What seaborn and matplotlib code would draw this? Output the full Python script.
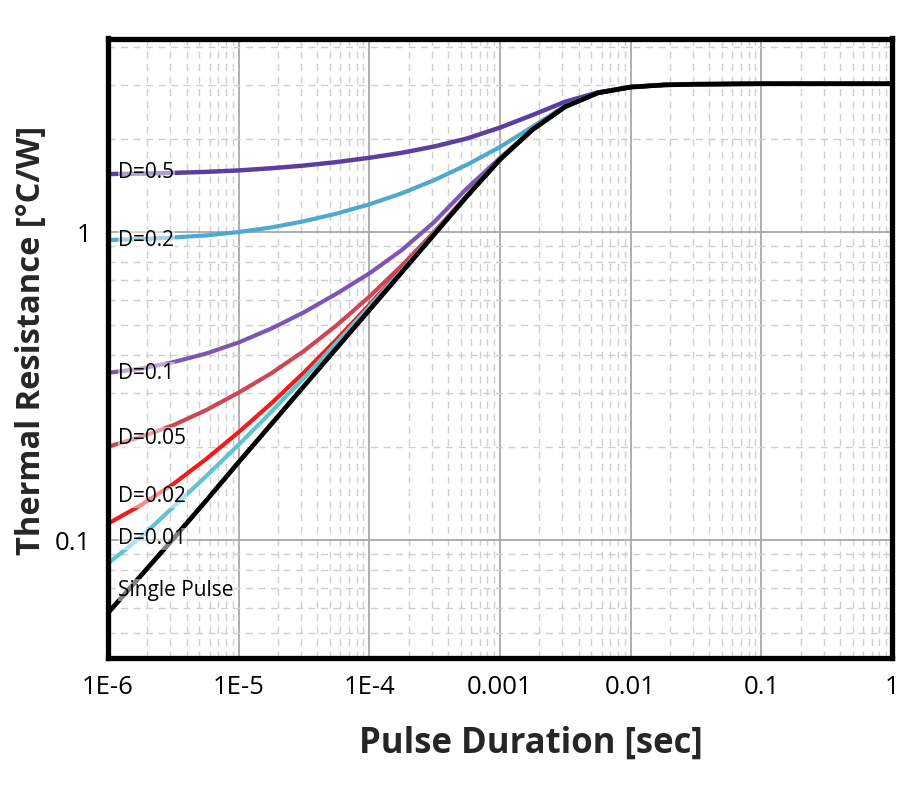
import numpy as np
import pandas as pd
import matplotlib
matplotlib.use('Agg')
import matplotlib.pyplot as plt
import seaborn as sns
from matplotlib.ticker import FixedLocator, LogLocator, NullFormatter

# pulse durations (sec) where the curves were read (quarter decades)
pulse_t = [1e-6, 1.78e-6, 3.16e-6, 5.62e-6, 1e-5, 1.78e-5, 3.16e-5, 5.62e-5,
           1e-4, 1.78e-4, 3.16e-4, 5.62e-4, 1e-3, 1.78e-3, 3.16e-3, 5.62e-3,
           1e-2, 1.78e-2, 3.16e-2, 0.1, 1.0]

# thermal resistance [°C/W] per curve
z_d05 = [1.543, 1.548, 1.556, 1.568, 1.585, 1.611, 1.644, 1.687, 1.742, 1.809, 1.897,
         2.014, 2.183, 2.40, 2.65, 2.84, 2.96, 3.003, 3.02, 3.03, 3.03]
z_d02 = [0.942, 0.949, 0.960, 0.975, 1.0, 1.035, 1.084, 1.148, 1.23, 1.337, 1.476,
         1.656, 1.888, 2.20, 2.57, 2.835, 2.955, 3.003, 3.02, 3.03, 3.03]
z_d01 = [0.349, 0.360, 0.378, 0.403, 0.438, 0.486, 0.549, 0.631, 0.734, 0.875, 1.081,
         1.39, 1.74, 2.153, 2.553, 2.831, 2.955, 3.003, 3.02, 3.03, 3.03]
z_d005 = [0.201, 0.216, 0.236, 0.264, 0.301, 0.348, 0.411, 0.498, 0.617, 0.78, 1.005,
          1.319, 1.72, 2.153, 2.553, 2.831, 2.955, 3.003, 3.02, 3.03, 3.03]
z_d002 = [0.113, 0.1297, 0.152, 0.183, 0.224, 0.278, 0.35, 0.448, 0.58, 0.757, 0.996,
          1.315, 1.72, 2.153, 2.553, 2.831, 2.955, 3.003, 3.02, 3.03, 3.03]
z_d001 = [0.084, 0.102, 0.128, 0.161, 0.204, 0.261, 0.336, 0.437, 0.572, 0.752, 0.994,
          1.316, 1.72, 2.153, 2.553, 2.831, 2.955, 3.003, 3.02, 3.03, 3.03]
z_single = [0.058, 0.0765, 0.101, 0.134, 0.179, 0.238, 0.316, 0.42, 0.558, 0.742, 0.986,
            1.31, 1.72, 2.153, 2.553, 2.831, 2.955, 3.003, 3.02, 3.03, 3.03]

curve_names = ['D=0.5', 'D=0.2', 'D=0.1', 'D=0.05', 'D=0.02', 'D=0.01', 'Single Pulse']
curve_values = [z_d05, z_d02, z_d01, z_d005, z_d002, z_d001, z_single]
curve_colors = ['#5B3FA0', '#4DA9CF', '#7E55B3', '#CC4657', '#F21A1A', '#5EC3D3', '#000000']
curve_widths = [3.2, 3.0, 3.0, 3.0, 3.0, 3.0, 3.4]

# label anchor heights (left edge)
label_y = [1.555, 0.942, 0.348, 0.214, 0.138, 0.101, 0.0688]

x_ticks = [1e-6, 1e-5, 1e-4, 1e-3, 1e-2, 0.1, 1.0]
x_ticklabels = ['1E-6', '1E-5', '1E-4', '0.001', '0.01', '0.1', '1']
y_ticks = [0.1, 1.0]
y_ticklabels = ['0.1', '1']

sns.set_style('white')
plt.rcParams['font.family'] = ['Open Sans', 'DejaVu Sans']

df = pd.DataFrame({
    't': np.tile(pulse_t, len(curve_names)),
    'z': np.concatenate(curve_values),
    'curve': np.repeat(curve_names, len(pulse_t)),
})

fig = plt.figure(figsize=(9.1, 7.9), dpi=100)
ax = fig.add_axes([108 / 910, 1 - 658 / 790, 784 / 910, 619.5 / 790])

for name, color, lw in zip(curve_names, curve_colors, curve_widths):
    sns.lineplot(data=df[df['curve'] == name], x='t', y='z', color=color,
                 linewidth=lw, estimator=None, sort=True, ax=ax)

ax.set_xscale('log')
ax.set_yscale('log')
ax.set_xlim(1e-6, 1)
ax.set_ylim(0.0414, 4.25)

ax.xaxis.set_major_locator(FixedLocator(x_ticks))
ax.set_xticklabels(x_ticklabels)
ax.yaxis.set_major_locator(FixedLocator(y_ticks))
ax.set_yticklabels(y_ticklabels)
for axis in (ax.xaxis, ax.yaxis):
    axis.set_minor_locator(LogLocator(base=10, subs=np.arange(2, 10), numticks=100))
    axis.set_minor_formatter(NullFormatter())
ax.tick_params(which='both', length=0, labelsize=18.5, colors='black')
ax.tick_params(axis='x', pad=12)
ax.tick_params(axis='y', pad=12)

ax.set_axisbelow(True)
ax.grid(which='major', color='#a8a8a8', linewidth=1.3, linestyle='-')
ax.grid(which='minor', color='#cfcfcf', linewidth=1.0, linestyle=(0, (5, 4)))

for s in ax.spines.values():
    s.set_linewidth(3.8)
    s.set_color('black')
    s.set_zorder(5)

for name, yv in zip(curve_names, label_y):
    ax.text(1.2e-6, yv, name, fontsize=15, color='black', va='center', ha='left',
            bbox=dict(facecolor='white', alpha=0.5, edgecolor='none', pad=0.5), zorder=4)

ax.set_xlabel('Pulse Duration [sec]', fontsize=25, fontweight='bold')
ax.set_ylabel('Thermal Resistance [°C/W]', fontsize=23.5, fontweight='bold')
ax.xaxis.set_label_coords(0.5395, -0.11)
ax.yaxis.set_label_coords(-0.077, 0.513)

fig.savefig('out.png', dpi=100, facecolor='white')
